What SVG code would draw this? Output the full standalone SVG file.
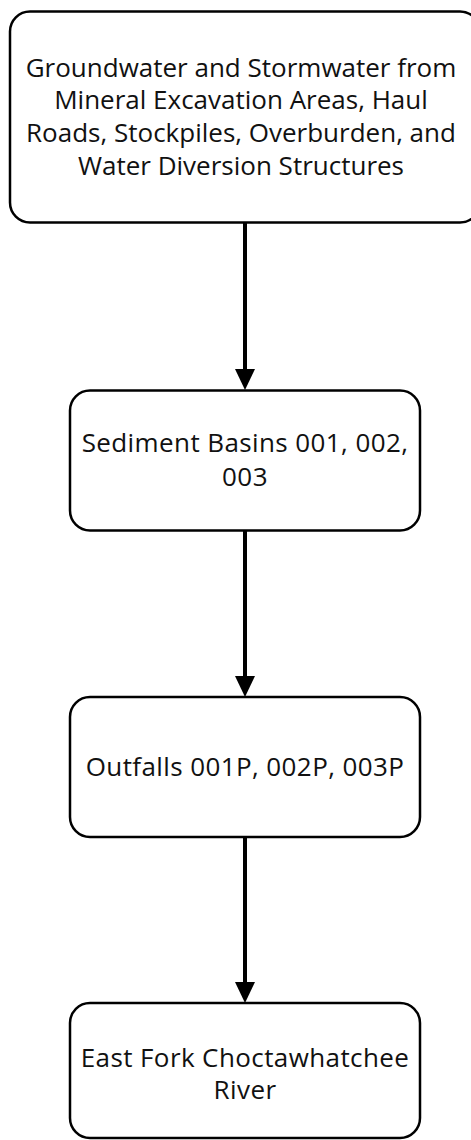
<svg xmlns="http://www.w3.org/2000/svg" width="471" height="1140" viewBox="0 0 471 1140">
<style>
.box{fill:#fff;stroke:#000;stroke-width:2.5}
.lbl{font-family:"Open Sans","Noto Sans","Liberation Sans",sans-serif;font-size:26px;fill:#111;text-anchor:middle}
.wide{letter-spacing:0.4px}
.edge{stroke:#000;stroke-width:4;fill:none}
</style>
<defs>
<marker id="ah" markerUnits="userSpaceOnUse" markerWidth="22" markerHeight="22" refX="0" refY="10" orient="auto" viewBox="0 0 22 20">
<path d="M0,0 L21,10 L0,20 Z" fill="#000"/>
</marker>
</defs>
<rect width="471" height="1140" fill="#fff"/>
<g id="connectors">
<line class="edge" x1="245" y1="223" x2="245" y2="369" marker-end="url(#ah)"/>
<line class="edge" x1="245" y1="531" x2="245" y2="676" marker-end="url(#ah)"/>
<line class="edge" x1="245" y1="838" x2="245" y2="982" marker-end="url(#ah)"/>
</g>
<g id="n1">
<rect class="box" x="10" y="11.5" width="470" height="211" rx="20"/>
<text class="lbl" x="241" y="76.5">Groundwater and Stormwater from</text>
<text class="lbl" x="241" y="109.2">Mineral Excavation Areas, Haul</text>
<text class="lbl" x="241" y="141.9">Roads, Stockpiles, Overburden, and</text>
<text class="lbl" x="241" y="174.6">Water Diversion Structures</text>
</g>
<g id="n2">
<rect class="box" x="70" y="390.5" width="350" height="140" rx="20"/>
<text class="lbl wide" x="245" y="452">Sediment Basins 001, 002,</text>
<text class="lbl wide" x="245" y="485.5">003</text>
</g>
<g id="n3">
<rect class="box" x="70" y="697" width="350" height="140" rx="20"/>
<text class="lbl wide" x="245" y="776">Outfalls 001P, 002P, 003P</text>
</g>
<g id="n4">
<rect class="box" x="70" y="1003" width="350" height="135" rx="20"/>
<text class="lbl wide" x="245" y="1066.5">East Fork Choctawhatchee</text>
<text class="lbl wide" x="245" y="1099">River</text>
</g>
</svg>
